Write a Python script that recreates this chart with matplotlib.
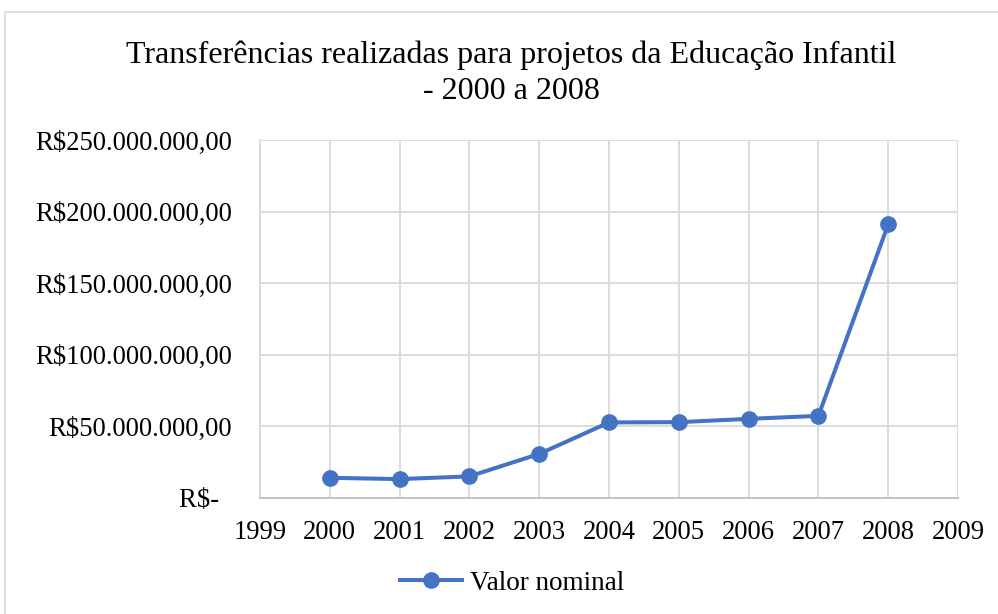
import matplotlib.pyplot as plt
from matplotlib.patches import Rectangle
from matplotlib.ticker import FuncFormatter

# data (R$)
anos = [2000, 2001, 2002, 2003, 2004, 2005, 2006, 2007, 2008]
valor_nominal = [13.9e6, 13.0e6, 14.9e6, 30.6e6, 52.6e6, 52.8e6, 55.1e6, 57.2e6, 191.0e6]
x_ticks = list(range(1999, 2010))
y_ticks = [0, 50e6, 100e6, 150e6, 200e6, 250e6]

plt.rcParams['font.family'] = ['Liberation Serif', 'DejaVu Serif']

fig = plt.figure(figsize=(9.98, 6.14), dpi=100)
# chart border like the spreadsheet chart area
fig.patches.append(Rectangle((5 / 998, -0.05), 1.0, 1 - 12 / 614 + 0.05,
                             transform=fig.transFigure, fill=False,
                             edgecolor='#d9d9d9', linewidth=1.2))

ax = fig.add_axes([260 / 998, 1 - 497.7 / 614, 698 / 998, 357.7 / 614])
ax.plot(anos, valor_nominal, color='#4472C4', linewidth=2.9, marker='o',
        markersize=11, label='Valor nominal', zorder=3)

ax.set_xlim(1999, 2009)
ax.set_ylim(0, 250e6)
ax.set_xticks(x_ticks)
ax.set_yticks(y_ticks)


def fmt_real(v, pos):
    if v == 0:
        return 'R$-  '
    s = f'{v:,.2f}'.replace(',', '#').replace('.', ',').replace('#', '.')
    return 'R$' + s


ax.yaxis.set_major_formatter(FuncFormatter(fmt_real))
ax.tick_params(axis='both', length=0, labelsize=19.2, colors='black')
ax.tick_params(axis='y', pad=20)
ax.tick_params(axis='x', pad=16)

ax.grid(True, color='#d9d9d9', linewidth=1.3)
ax.set_axisbelow(True)
for s in ['top', 'right']:
    ax.spines[s].set_visible(False)
ax.spines['left'].set_color('#d9d9d9')
ax.spines['bottom'].set_color('#bfbfbf')
ax.spines['left'].set_linewidth(1.3)
ax.spines['bottom'].set_linewidth(1.3)

fig.text(511 / 998, 1 - 73 / 614,
         'Transferências realizadas para projetos da Educação Infantil\n- 2000 a 2008',
         ha='center', va='center', fontsize=23, linespacing=1.3)

fig.legend(loc='center', bbox_to_anchor=(512 / 998, 1 - 583 / 614), frameon=False,
           fontsize=19.5, handlelength=2.3, handletextpad=0.3)

fig.savefig('out.png', dpi=100)
